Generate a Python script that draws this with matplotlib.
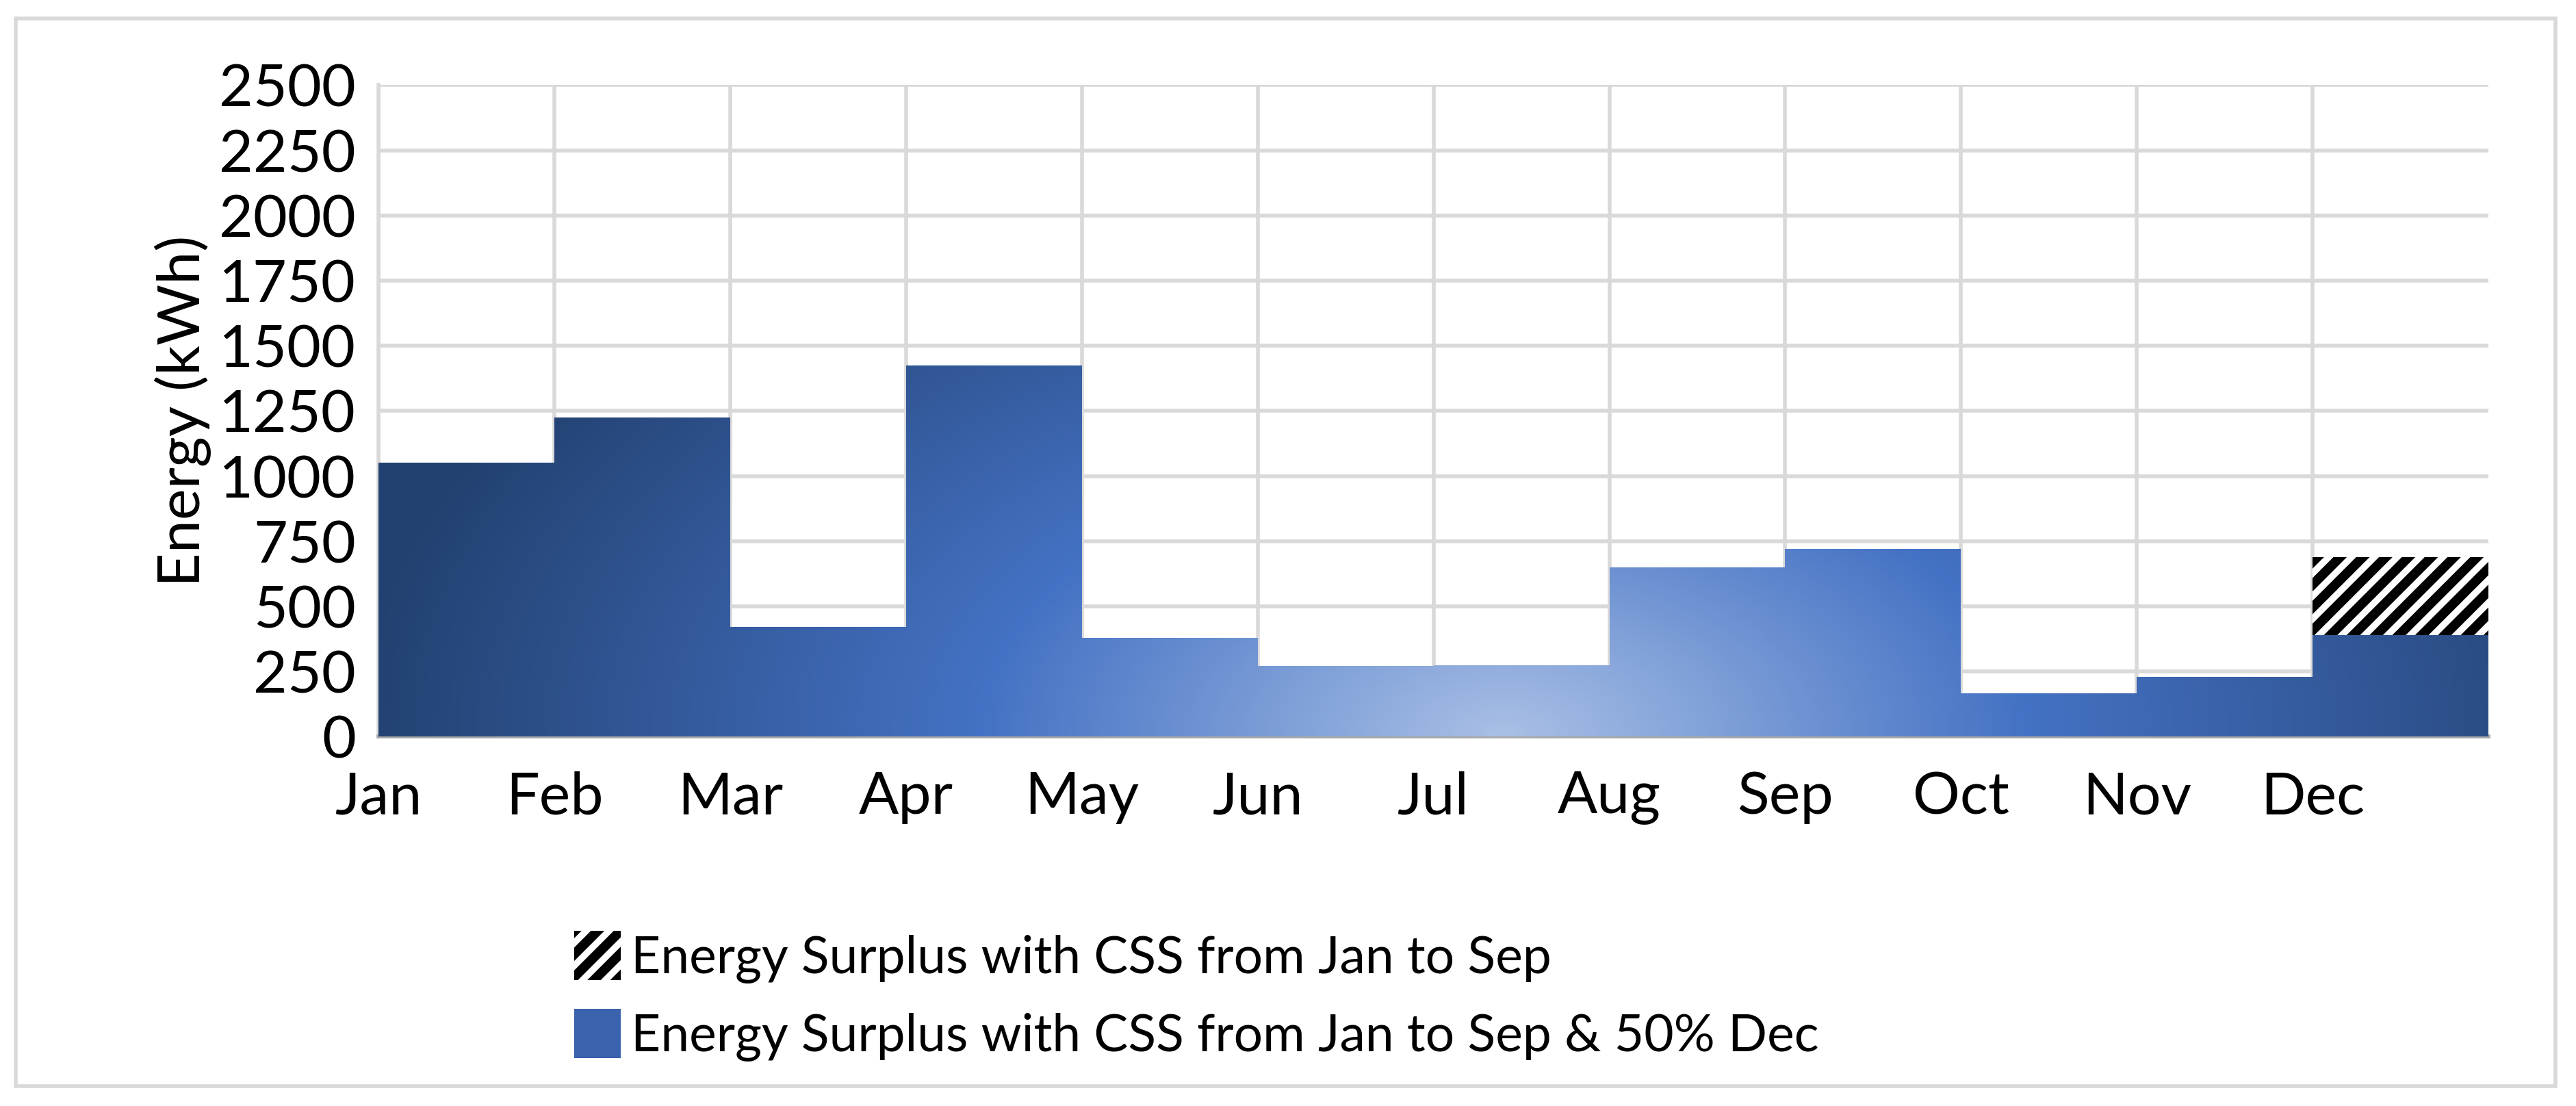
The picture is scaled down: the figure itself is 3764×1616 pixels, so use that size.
import numpy as np
import matplotlib.pyplot as plt
from matplotlib.colors import LinearSegmentedColormap
from matplotlib.patches import Patch, Rectangle, Polygon

months = ["Jan", "Feb", "Mar", "Apr", "May", "Jun", "Jul", "Aug", "Sep", "Oct", "Nov", "Dec"]
surplus_jan_sep = [1050, 1225, 420, 1425, 380, 270, 275, 650, 720, 165, 230, 690]
surplus_jan_sep_dec50 = [1050, 1225, 420, 1425, 380, 270, 275, 650, 720, 165, 230, 390]
yticks = list(range(0, 2501, 250))

plt.rcParams['font.family'] = ['Lato', 'DejaVu Sans']
plt.rcParams['hatch.linewidth'] = 5
plt.rcParams['hatch.color'] = 'black'

fig = plt.figure(figsize=(18.82, 8.08), dpi=200)
ax = fig.add_axes([0.147, 0.334, 0.819, 0.589])

# step outlines (each month occupies [i, i+1])
def step_xy(vals):
    xs, ys = [0], [0]
    for i, v in enumerate(vals):
        xs += [i, i + 1]
        ys += [v, v]
    xs.append(len(vals))
    ys.append(0)
    return np.array(xs), np.array(ys)

# hatched series behind
hx, hy = step_xy(surplus_jan_sep)
ax.fill(hx, hy, facecolor="white", edgecolor="black", linewidth=0, hatch="//", zorder=2)

# gradient-filled blue series
bx, by = step_xy(surplus_jan_sep_dec50)
poly = Polygon(np.column_stack([bx, by]), closed=True, facecolor="none", edgecolor="none")
ax.add_patch(poly)
cmap = LinearSegmentedColormap.from_list(
    "blues", [(0, "#a9c0e6"), (0.45, "#4472c4"), (1, "#22406f")])
gx, gy = np.meshgrid(np.linspace(0, 12, 600), np.linspace(0, 2500, 400))
dist = np.sqrt(((gx - 6.4) / 6.6) ** 2 + (gy / 2500) ** 2)
im = ax.imshow(np.clip(dist, 0, 1), extent=[0, 12, 0, 2500], origin="lower",
               cmap=cmap, vmin=0, vmax=1, aspect="auto", zorder=3)
im.set_clip_path(poly)

ax.set_xlim(0, 12)
ax.set_ylim(0, 2500)
ax.set_xticks(range(12))
ax.set_xticklabels(months)
ax.set_yticks(yticks)
ax.tick_params(axis="both", length=0, labelsize=31)
ax.tick_params(axis="x", pad=18)
ax.tick_params(axis="y", pad=12)
ax.grid(True, color="#d9d9d9", linewidth=2)
ax.set_axisbelow(True)
for s in ["top", "right"]:
    ax.spines[s].set_visible(False)
ax.spines["left"].set_color("#d9d9d9")
ax.spines["bottom"].set_color("#a6a6a6")
ax.spines["left"].set_linewidth(2)
ax.spines["bottom"].set_linewidth(2)
ax.set_ylabel("Energy (kWh)", fontsize=31)

handles = [Patch(facecolor="white", edgecolor="black", linewidth=0, hatch="//"),
           Patch(facecolor="#3a62ad", edgecolor="none")]
labels = ["Energy Surplus with CSS from Jan to Sep",
          "Energy Surplus with CSS from Jan to Sep & 50% Dec"]
fig.legend(handles, labels, loc="upper left", bbox_to_anchor=(0.205, 0.2),
           frameon=False, fontsize=27, handlelength=0.9, handleheight=1.1,
           handletextpad=0.2, labelspacing=0.5)

fig.patches.append(Rectangle((0.006, 0.018), 0.986, 0.965, transform=fig.transFigure,
                             fill=False, edgecolor="#d9d9d9", linewidth=2))

fig.savefig("out.png", dpi=200, facecolor="white")
